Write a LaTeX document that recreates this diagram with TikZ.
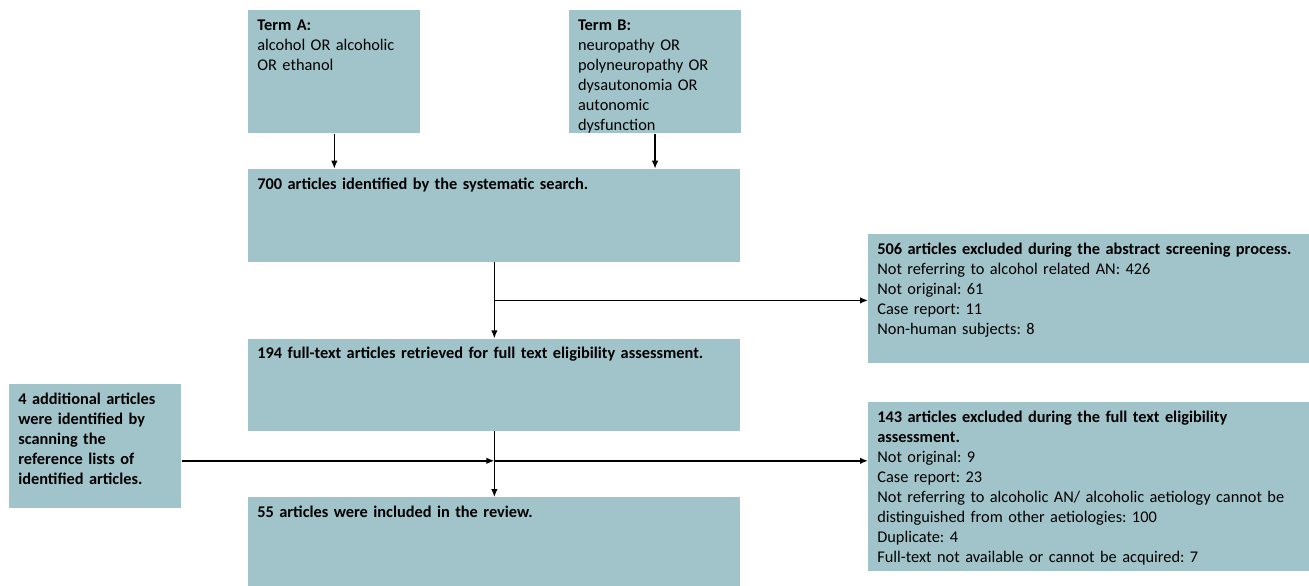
\documentclass[tikz,border=0pt]{standalone}
\usepackage{fontspec}
\setmainfont{Carlito}
\usepackage{tikz}
\usetikzlibrary{arrows.meta, calc, positioning}
\definecolor{boxteal}{HTML}{A1C4CB}
\frenchspacing
\tikzstyle{flowbox} = [rectangle, fill=boxteal, anchor=north west, align=left, inner xsep=0.18cm, inner ysep=0.15cm, text height=0.25cm, font=\fontsize{9.3pt}{11.4pt}\selectfont]
\tikzstyle{termbox} = [flowbox, text width=3.08cm, text depth=1.91cm]
\tikzstyle{mainbox} = [flowbox, text width=9.48cm, text depth=1.31cm]
\tikzstyle{exclbox} = [flowbox, text width=8.46cm, text depth=2.03cm]

\begin{document}
\begin{tikzpicture}[>={Latex[length=1.6mm, width=1.3mm]}]
	\useasboundingbox (0,0) rectangle (26.18,-11.72);
	
	\node[termbox] (termA) at (4.96,-0.2) {\textbf{Term A:}\\alcohol OR alcoholic\\OR ethanol};
	\node[termbox, right=2.96cm of termA] (termB) {\textbf{Term B:}\\neuropathy OR\\polyneuropathy OR\\dysautonomia OR\\autonomic\\dysfunction};
	\node[mainbox, below=0.7cm of termA.south west, anchor=north west] (search) {\textbf{700 articles identified by the systematic search.}};
	\node[mainbox, below=1.52cm of search, text depth=1.29cm] (fulltext) {\textbf{194 full-text articles retrieved for full text eligibility assessment.}};
	\node[mainbox, below=1.32cm of fulltext, text depth=1.23cm] (included) {\textbf{55 articles were included in the review.}};
	\node[termbox, text depth=1.93cm] (additional) at (0.18,-7.68) {\textbf{4 additional articles}\\\textbf{were identified by}\\\textbf{scanning the}\\\textbf{reference lists of}\\\textbf{identified articles.}};
	\node[exclbox] (excl1) at (17.36,-4.68) {\textbf{506 articles excluded during the abstract screening process.}\\Not referring to alcohol related AN: 426\\Not original: 61\\Case report: 11\\Non-human subjects: 8};
	\node[exclbox, text depth=2.83cm] (excl2) at (17.36,-8.04) {\textbf{143 articles excluded during the full text eligibility}\\\textbf{assessment.}\\Not original: 9\\Case report: 23\\Not referring to alcoholic AN/ alcoholic aetiology cannot be\\distinguished from other aetiologies: 100\\Duplicate: 4\\Full-text not available or cannot be acquired: 7};
	
	\coordinate (mid1) at ($(search.south)!0.5!(fulltext.north)$);
	\coordinate (mid2) at ($(fulltext.south)!0.45!(included.north)$);
	
	%arrows
	\draw [->, thick] (termA.south) -- (termA.south |- search.north);
	\draw [->, thick] (termB.south) -- (termB.south |- search.north);
	\draw [->, thick] (search.south) -- (fulltext.north);
	\draw [->, thick] (mid1) -- (excl1.west |- mid1);
	\draw [->, thick] (fulltext.south) -- (included.north);
	\draw [->, thick] (additional.east |- mid2) -- (mid2);
	\draw [->, thick] (mid2) -- (excl2.west |- mid2);
\end{tikzpicture}
\end{document}
